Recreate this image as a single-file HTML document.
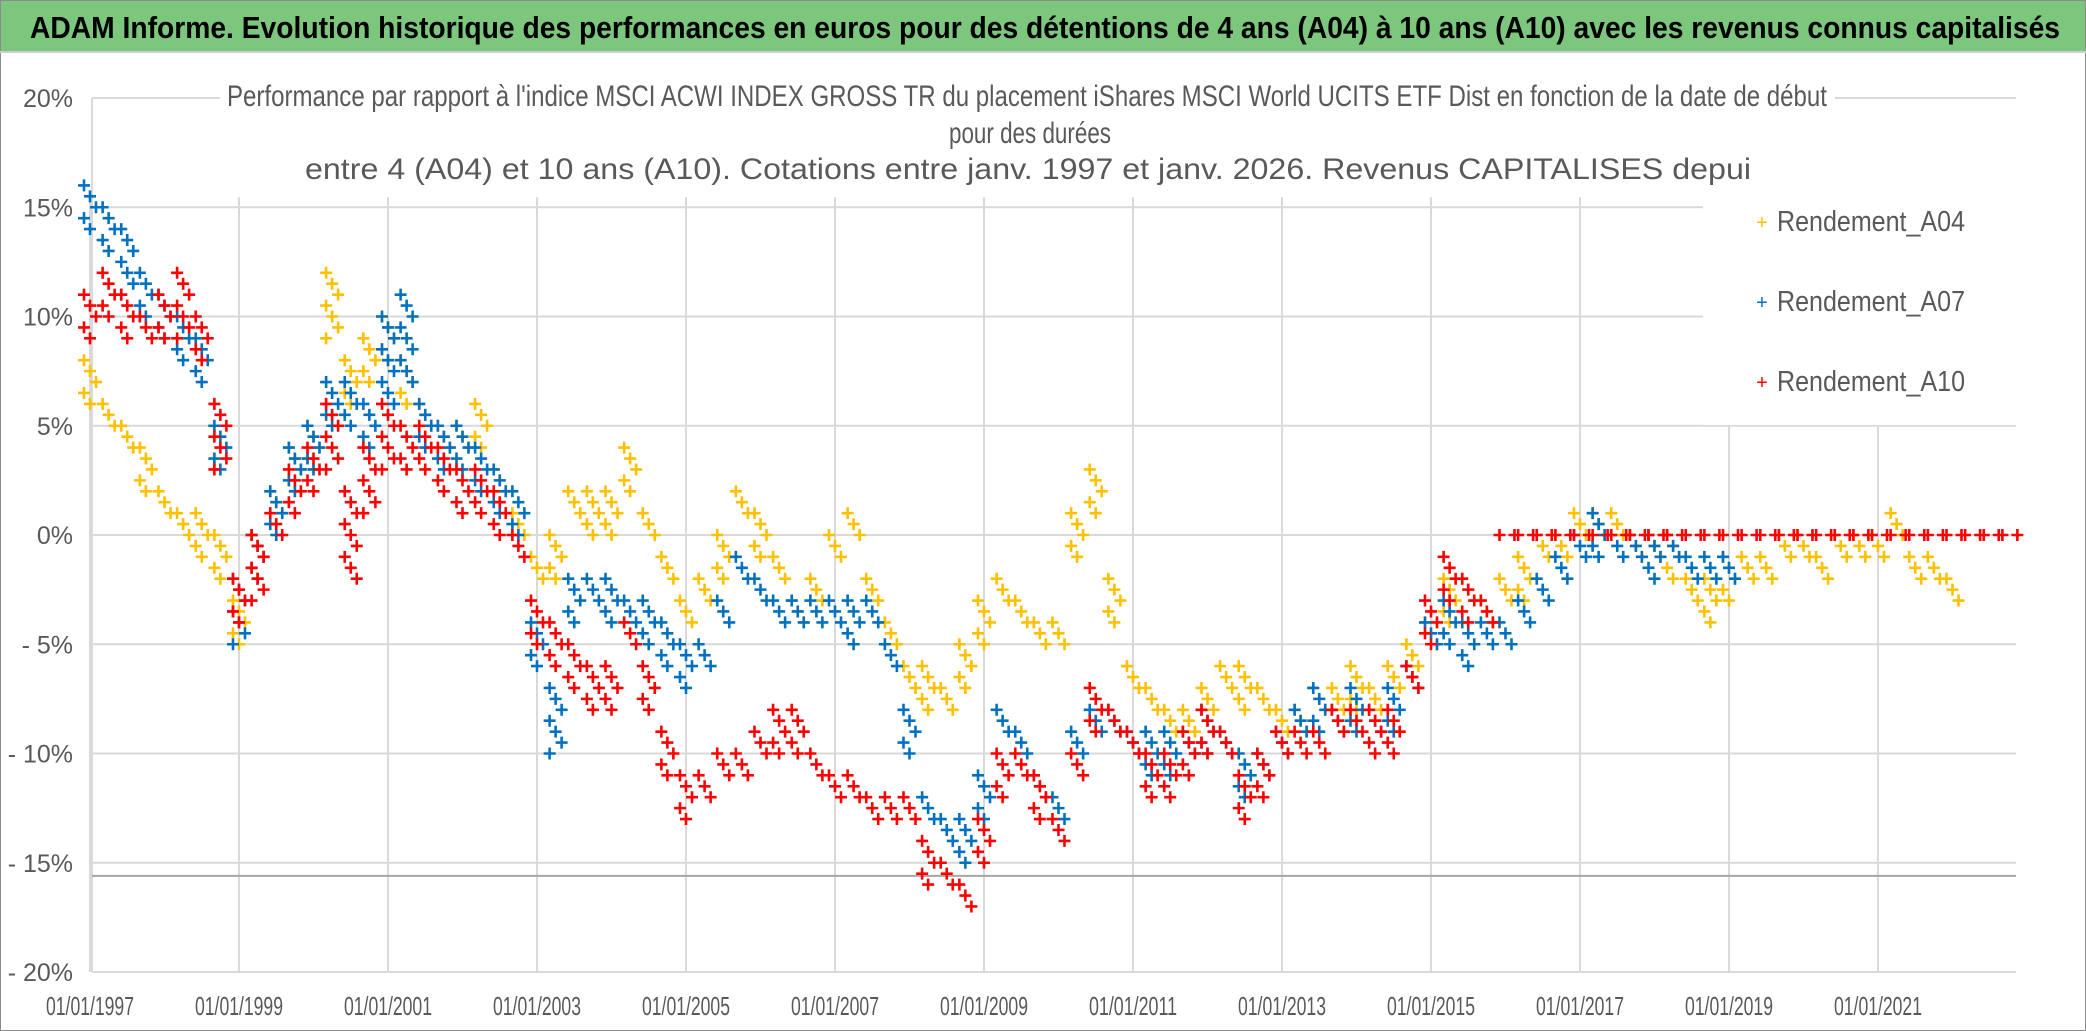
<!DOCTYPE html>
<html><head><meta charset="utf-8">
<style>
html,body{margin:0;padding:0;background:#fff;}
svg{display:block;font-family:"Liberation Sans",sans-serif;}
</style></head>
<body>
<svg id="chart" width="2086" height="1031" viewBox="0 0 2086 1031" xmlns="http://www.w3.org/2000/svg">
<rect x="0.5" y="0.5" width="2085" height="1030" fill="#fff" stroke="#8c8c8c"/>
<rect x="1" y="1" width="2084" height="50" fill="#7dc67d"/>
<line x1="0" y1="52" x2="2086" y2="52" stroke="#cfcfcf" stroke-width="2"/>
<text x="30" y="38" font-size="31" font-weight="bold" fill="#000" textLength="2030" lengthAdjust="spacingAndGlyphs">ADAM Informe. Evolution historique des performances en euros pour des détentions de 4 ans (A04) à 10 ans (A10) avec les revenus connus capitalisés</text>
<g id="grid"></g>
<g id="marks"></g>
<rect x="220" y="78" width="1615" height="112" fill="#fff"/>
<g fill="#595959" font-size="30" text-anchor="middle">
<text x="1027" y="106" textLength="1600" lengthAdjust="spacingAndGlyphs">Performance par rapport à l'indice MSCI ACWI INDEX GROSS TR  du placement iShares MSCI World UCITS ETF Dist en fonction de la date de début</text>
<text x="1030" y="143" textLength="162" lengthAdjust="spacingAndGlyphs">pour des durées</text>
<text x="1028" y="179" textLength="1446" lengthAdjust="spacingAndGlyphs">entre 4 (A04) et 10 ans (A10). Cotations entre janv. 1997 et janv. 2026. Revenus CAPITALISES depui</text>
</g>
<rect x="1703" y="195" width="314" height="230" fill="#fff"/>
<g font-size="29" fill="#595959">
<g><text x="1762" y="229" text-anchor="middle" fill="#ffc000" font-size="20">+</text><text x="1777" y="231" textLength="188" lengthAdjust="spacingAndGlyphs">Rendement_A04</text></g>
<g><text x="1762" y="309" text-anchor="middle" fill="#0070c0" font-size="20">+</text><text x="1777" y="311" textLength="188" lengthAdjust="spacingAndGlyphs">Rendement_A07</text></g>
<g><text x="1762" y="389" text-anchor="middle" fill="#ff0000" font-size="20">+</text><text x="1777" y="391" textLength="188" lengthAdjust="spacingAndGlyphs">Rendement_A10</text></g>
</g>
<g id="axes"></g>
</svg>
<script>
const startYear = 1997;
const stepYears = 0.25;
const yTicks = [20, 15, 10, 5, 0, -5, -10, -15, -20];
const yTickLabels = ["20%", "15%", "10%", "5%", "0%", "- 5%", "- 10%", "- 15%", "- 20%"];
const xTickYears = [1997, 1999, 2001, 2003, 2005, 2007, 2009, 2011, 2013, 2015, 2017, 2019, 2021];
const xTickLabels = ["01/01/1997","01/01/1999","01/01/2001","01/01/2003","01/01/2005","01/01/2007","01/01/2009","01/01/2011","01/01/2013","01/01/2015","01/01/2017","01/01/2019","01/01/2021"];
const refLineValue = -15.6;

const a04Hi = [8,6,5,4, 2,1,1,0, -3,0,2,4, 5,12,8,9, 10,8,6,5, 5,6,3,1, -1,0,2,2, 2,4,1,-1, -3,-2,0,2, 1,-1,-3,-2, 0,1,-2,-4, -6,-6,-7,-5, -3,-2,-3,-4, -4,1,3,-2, -6,-7,-8,-8, -7,-6,-6,-7, -8,-8,-7,-7, -6,-7,-6,-5, -4,-2,-2,-3, -2,-1,0,0, 1,1,1,0, 0,0,-2,-2, -1,-1,-1,0, 0,-1,0,0, 0,1,-1,-1, -2];
const a04Lo = [6,5,4,2, 1,0,-1,-2, -5,-2,1,2, 3,9,6,7, 8,6,5,4, 4,4,2,0, -2,-2,1,0, 0,2,0,-2, -4,-3,-2,1, -1,-2,-4,-3, -1,0,-3,-5, -7,-8,-8,-7, -5,-3,-4,-5, -5,-1,1,-4, -7,-8,-9,-9, -8,-7,-8,-8, -9,-9,-8,-8, -8,-8,-7,-6, -5,-4,-3,-4, -3,-3,-1,-1, 0,0,0,-1, -1,-2,-3,-4, -3,-2,-2,-1, -1,-2,-1,-1, -1,0,-2,-2, -3];
const a07Hi = [16,15,14,12, 11,10,9,5, -2,0,2,4, 5,7,7,6, 10,11,6,5, 5,4,3,2, -4,-7,-2,-2, -2,-3,-3,-4, -5,-5,-3,-1, -2,-3,-3,-3, -3,-3,-3,-5, -8,-12,-13,-13, -11,-8,-9,-11, -12,-9,-8,-8, -9,-9,-9,-9, -8,-9,-10,-10, -9,-8,-7,-8, -7,-8,-7,-6, -4,-3,-4,-4, -4,-3,-2,-1, 0,1,0,0, 0,0,-1,-1, -1];
const a07Lo = [14,13,11,10, 9,8,7,3, -5,-2,0,2, 3,5,5,4, 6,7,4,3, 3,2,1,0, -6,-10,-4,-3, -4,-4,-5,-6, -7,-6,-4,-2, -3,-4,-4,-4, -4,-5,-4,-6, -10,-13,-14,-15, -13,-9,-10,-12, -13,-10,-9,-9, -10,-11,-11,-10, -10,-10,-12,-11, -10,-9,-9,-9, -9,-9,-9,-7, -5,-5,-6,-5, -5,-4,-3,-2, -1,-1,-1,-1, -2,-1,-2,-2, -2];
const a10Hi = [11,12,11,10, 11,12,10,6, -2,0,1,3, 4,6,2,4, 6,5,5,4, 3,3,2,0, -3,-4,-5,-6, -6,-4,-6,-9, -11,-11,-10,-10, -9,-8,-8,-10, -11,-11,-12,-12, -12,-14,-15,-16, -13,-10,-10,-11, -13,-10,-7,-8, -9,-10,-10,-9, -8,-9,-11,-10, -9,-9,-9,-8, -8,-8,-8,-6, -3,-1,-2,-3,
 0,0,0,0, 0,0,0,0, 0,0,0,0, 0,0,0,0, 0,0,0,0, 0,0,0,0, 0,0,0,0];
const a10Lo = [9,10,9,9, 9,9,8,3, -4,-3,0,1, 2,3,-2,1, 3,3,3,2, 1,1,0,-1, -5,-6,-7,-8, -8,-5,-8,-11, -13,-12,-11,-11, -10,-10,-10,-11, -12,-12,-13,-13, -13,-16,-16,-17, -15,-12,-11,-13, -14,-11,-9,-9, -10,-12,-12,-11, -10,-10,-13,-12, -10,-10,-10,-9, -9,-10,-10,-7, -5,-3,-4,-4,
 0,0,0,0, 0,0,0,0, 0,0,0,0, 0,0,0,0, 0,0,0,0, 0,0,0,0, 0,0,0,0];

const NS = "http://www.w3.org/2000/svg";
const X0 = 90, PX_PER_YEAR = 74.5, Y0 = 535, PX_PER_PCT = 21.85, XR = 2016;
function xScale(yr){ return X0 + (yr - startYear) * PX_PER_YEAR; }
function yScale(v){ return Y0 - v * PX_PER_PCT; }
function mk(tag, attrs, parent){ const e=document.createElementNS(NS,tag); for(const k in attrs) e.setAttribute(k,attrs[k]); parent.appendChild(e); return e; }

const grid = document.getElementById('grid');
const axes = document.getElementById('axes');
yTicks.forEach((v,i)=>{
  const ln = mk('line',{x1:92,x2:XR,y1:yScale(v),y2:yScale(v),stroke:'#d9d9d9','stroke-width':2},grid);
  
  
  const t = mk('text',{x:73,y:yScale(v)+9,'text-anchor':'end','font-size':25,fill:'#595959'},axes);
  t.textContent = yTickLabels[i];
  
  
});
xTickYears.forEach((yr,i)=>{
  const ln = mk('line',{x1:xScale(yr),x2:xScale(yr),y1:yScale(15)-10,y2:yScale(-20),stroke:'#d9d9d9','stroke-width':2},grid);
  
  
  const t = mk('text',{x:xScale(yr),y:1015,'text-anchor':'middle','font-size':26,fill:'#595959',textLength:88,lengthAdjust:'spacingAndGlyphs'},axes);
  t.textContent = xTickLabels[i];
  
  
});
const yAx = mk('line',{x1:92,x2:92,y1:yScale(20),y2:yScale(-20),stroke:'#d9d9d9','stroke-width':2},grid);


const ref = mk('line',{x1:92,x2:XR,y1:yScale(refLineValue),y2:yScale(refLineValue),stroke:'#a6a6a6','stroke-width':2},grid);



const marks = document.getElementById('marks');
function drawSeries(hi, lo, color, name){
  const g = mk('g',{stroke:color,'stroke-width':2.6},marks);
  
  
  let d = '';
  for(let i=0;i<hi.length;i++){
    const x = xScale(startYear + i*stepYears);
    const top = Math.max(hi[i], lo[i]), bot = Math.min(hi[i], lo[i]);
    const ys = [];
    for(let v=top; v>bot; v-=0.5) ys.push(v);
    ys.push(bot);
    ys.forEach((v,k)=>{
      const cx = x + ((k%3)-1)*6, cy = yScale(v);
      d += `M${cx-6} ${cy}h12M${cx} ${cy-6}v12`;
    });
    if(hi[i]===lo[i]){ d += `M${x+3} ${yScale(hi[i])}h12M${x+9} ${yScale(hi[i])-6}v12`; }
  }
  mk('path',{d:d,fill:'none'},g);
}
drawSeries(a04Hi, a04Lo, '#ffc000', 'series-a04');
drawSeries(a07Hi, a07Lo, '#0070c0', 'series-a07');
drawSeries(a10Hi, a10Lo, '#ff0000', 'series-a10');
</script>
</body></html>
